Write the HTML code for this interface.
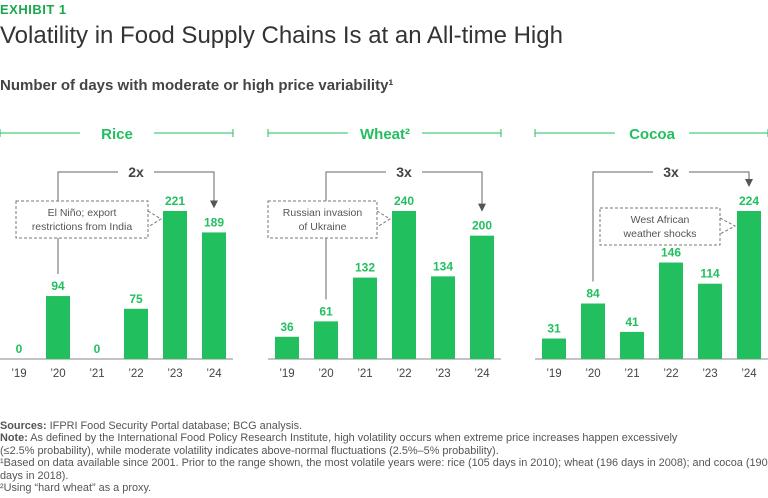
<!DOCTYPE html>
<html><head><meta charset="utf-8"><style>
body{margin:0;width:768px;height:498px;background:#fff;font-family:"Liberation Sans",sans-serif;overflow:hidden}
.t{position:absolute;white-space:nowrap}
</style></head><body>
<div class="t" style="left:0;top:2px;font-size:13px;font-weight:bold;color:#1aa84c;letter-spacing:0.5px">EXHIBIT 1</div>
<div class="t" style="left:0;top:22px;font-size:24px;color:#333">Volatility in Food Supply Chains Is at an All-time High</div>
<div class="t" style="left:0;top:77px;font-size:15px;font-weight:bold;color:#444">Number of days with moderate or high price variability¹</div>
<svg id="c" width="768" height="400" style="position:absolute;left:0;top:0" font-family="Liberation Sans, sans-serif">
<defs><marker id="ar" markerWidth="8" markerHeight="8" refX="4" refY="4" orient="auto"><path d="M0,0 L8,4 L0,8z" fill="#555"/></marker></defs>
</svg>
<div class="t" style="left:0;top:420px;font-size:10.9px;line-height:12.4px;color:#555">
<b>Sources:</b> IFPRI Food Security Portal database; BCG analysis.<br>
<b>Note:</b> As defined by the International Food Policy Research Institute, high volatility occurs when extreme price increases happen excessively<br>
(≤2.5% probability), while moderate volatility indicates above-normal fluctuations (2.5%–5% probability).<br>
¹Based on data available since 2001. Prior to the range shown, the most volatile years were: rice (105 days in 2010); wheat (196 days in 2008); and cocoa (190<br>
days in 2018).<br>
²Using “hard wheat” as a proxy.</div>
<script>
const years=["’19","’20","’21","’22","’23","’24"];
const riceValues=[0,94,0,75,221,189];
const wheatValues=[36,61,132,240,134,200];
const cocoaValues=[31,84,41,146,114,224];
const panelTitles=["Rice","Wheat²","Cocoa"];
const multipliers=["2x","3x","3x"];
const notes=[["El Niño; export","restrictions from India"],["Russian invasion","of Ukraine"],["West African","weather shocks"]];
const series=[riceValues,wheatValues,cocoaValues];
const svg=document.getElementById('c');const NS="http://www.w3.org/2000/svg";
function mk(t,a,p){const e=document.createElementNS(NS,t);for(const k in a)e.setAttribute(k,a[k]);(p||svg).appendChild(e);return e;}
const base=359;
const panelX=[0,268,535];
const x=(p,i)=>panelX[p]+19+i*39;
const G="#22bf5f";
series.forEach((vals,p)=>{
 const k=148/Math.max(...vals);
 const y=v=>base-v*k;
 const ox=panelX[p];
 const g=mk('g',{});
 
 
 const cx=ox+117;
 mk('line',{x1:ox,y1:133,x2:cx-37,y2:133,stroke:G,'stroke-width':1},g);
 mk('line',{x1:cx+37,y1:133,x2:ox+233,y2:133,stroke:G,'stroke-width':1},g);
 mk('line',{x1:ox,y1:129,x2:ox,y2:137,stroke:G},g);mk('line',{x1:ox+233,y1:129,x2:ox+233,y2:137,stroke:G},g);
 const tt=mk('text',{x:cx,y:139,'text-anchor':'middle','font-size':15,'font-weight':'bold',fill:G},g);tt.textContent=panelTitles[p];
 
 
 mk('line',{x1:ox,y1:base,x2:ox+233,y2:base,stroke:'#888'},g);
 vals.forEach((v,i)=>{
  const b=mk('rect',{x:x(p,i)-12,y:y(v),width:24,height:base-y(v),fill:G},g);
  
  
  const l=mk('text',{x:x(p,i),y:y(v)-6,'text-anchor':'middle','font-size':12,'font-weight':'bold',fill:G},g);l.textContent=v;
  
  
  const yl=mk('text',{x:x(p,i),y:377,'text-anchor':'middle','font-size':11.5,fill:'#444'},g);yl.textContent=years[i];
  
  
 });
 const x1=x(p,1),x2=x(p,5);
 const by=172,mid=(x1+x2)/2;
 mk('path',{d:`M${x1},${y(vals[1])-22} L${x1},${by} L${mid-18},${by}`,fill:'none',stroke:'#666'},g);
 mk('path',{d:`M${mid+18},${by} L${x2},${by} L${x2},${y(vals[5])-28}`,fill:'none',stroke:'#666','marker-end':'url(#ar)'},g);
 const m=mk('text',{x:mid,y:by+5,'text-anchor':'middle','font-size':14,'font-weight':'bold',fill:'#444'},g);m.textContent=multipliers[p];
 
 
 const bw=[132,109,120][p],bx=[16,268,600][p],byy=[201,201,208][p];
 mk('rect',{x:bx,y:byy,width:bw,height:37,fill:'#fff',stroke:'#777','stroke-dasharray':'3,2'},g);
 const t=mk('text',{x:bx+bw/2,y:byy+15,'text-anchor':'middle','font-size':10.5,fill:'#555'},g);
 
 
 notes[p].forEach((s,j)=>{const ts=mk('tspan',{x:bx+bw/2,dy:j?14:0},t);ts.textContent=s;});
 const tgt=[4,3,5][p],tx=x(p,tgt)-14;
 mk('path',{d:`M${bx+bw},${byy+10} L${tx},${byy+18} L${bx+bw},${byy+26}`,fill:'none',stroke:'#777','stroke-dasharray':'3,2'},g);
});
</script>
</body></html>
